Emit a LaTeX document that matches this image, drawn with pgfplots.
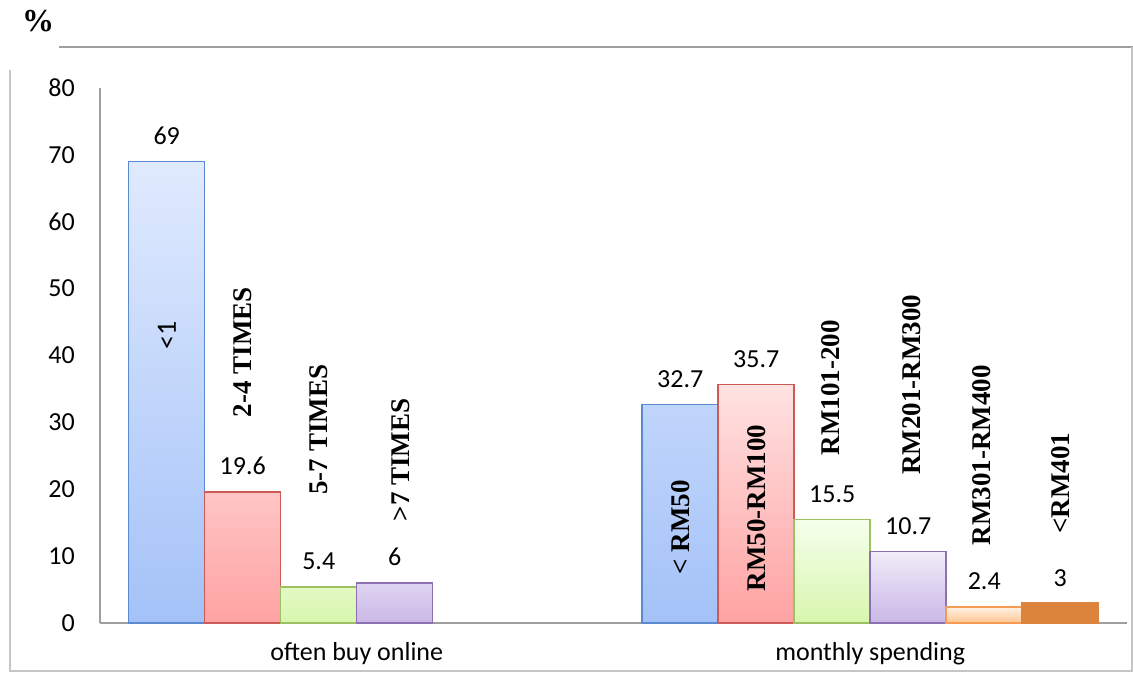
\documentclass[border=0pt]{standalone}
\usepackage{pgfplots}
\pgfplotsset{compat=1.18}
\usepackage{fontspec}
\setmainfont{Carlito}
\newfontfamily\tnr{Liberation Serif}
\definecolor{bluetop}{HTML}{E0EAFE}
\definecolor{bluebot}{HTML}{A4C2F8}
\definecolor{blueline}{HTML}{5A8AD0}
\definecolor{redtop}{HTML}{FFE2E2}
\definecolor{redbot}{HTML}{FFA2A2}
\definecolor{redline}{HTML}{CC5B58}
\definecolor{greentop}{HTML}{F5FFEC}
\definecolor{greenbot}{HTML}{D8F6AE}
\definecolor{greenline}{HTML}{9CC163}
\definecolor{purptop}{HTML}{F0ECF8}
\definecolor{purpbot}{HTML}{CAB7E7}
\definecolor{purpline}{HTML}{8D70B0}
\definecolor{peachtop}{HTML}{FFF1E4}
\definecolor{peachbot}{HTML}{FFC48E}
\definecolor{peachline}{HTML}{F49A52}
\definecolor{orangebar}{HTML}{DC843C}
\begin{document}
\begin{tikzpicture}
\path[use as bounding box] (0,0) rectangle (1133pt,673pt);
\draw[gray!75, line width=1.5pt] (59pt,626pt) -- (1133pt,626pt);
\draw[gray!45, line width=1.5pt] (10pt,603pt) -- (10pt,2pt) -- (1132pt,2pt) -- (1132pt,626pt);
\node[font=\tnr\bfseries\fontsize{32}{34}\selectfont] at (38pt,652pt) {\%};
\begin{axis}[
  at={(100pt,50pt)}, anchor=south west,
  scale only axis, width=1027pt, height=535pt,
  xmin=-0.5, xmax=1.5, ymin=0, ymax=80,
  ybar=0pt, bar width=76pt,
  axis x line*=bottom, axis y line*=left,
  axis line style={gray!75, line width=1.3pt},
  major tick length=0pt,
  xtick={0,1}, xticklabels={often buy online, monthly spending},
  ytick={0,10,...,80},
  /pgf/number format/assume math mode=true,
  tick label style={font=\fontsize{26}{30}\selectfont, inner sep=0pt},
  yticklabel style={anchor=east, xshift=-25pt},
  xticklabel style={anchor=base, yshift=-37pt},
  nodes near coords,
  every node near coord/.append style={font=\fontsize{26}{30}\selectfont, inner sep=0pt, anchor=south, yshift=16pt, color=black},
  clip=false,
]
\addplot[draw=blueline, line width=1.5pt, top color=bluetop, bottom color=bluebot] coordinates {(0,69) (1,32.7)};
\addplot[draw=redline, line width=1.5pt, top color=redtop, bottom color=redbot] coordinates {(0,19.6) (1,35.7)};
\addplot[draw=greenline, line width=1.5pt, top color=greentop, bottom color=greenbot] coordinates {(0,5.4) (1,15.5)};
\addplot[draw=purpline, line width=1.5pt, top color=purptop, bottom color=purpbot] coordinates {(0,6) (1,10.7)};
\addplot[draw=peachline, line width=1.5pt, top color=peachtop, bottom color=peachbot] coordinates {(1,2.4)};
\addplot[draw=orangebar, line width=1.5pt, fill=orangebar] coordinates {(1,3)};
\node[rotate=90, font=\fontsize{28}{30}\selectfont] at (axis cs:-0.370,43) {<1};
\node[rotate=90, font=\tnr\bfseries\fontsize{27}{30}\selectfont] at (axis cs:-0.222,40.5) {2-4 TIMES};
\node[rotate=90, font=\tnr\bfseries\fontsize{27}{30}\selectfont] at (axis cs:-0.074,28.9) {5-7 TIMES};
\node[rotate=90, font=\tnr\bfseries\fontsize{27}{30}\selectfont] at (axis cs:0.086,24.4) {>7 TIMES};
\node[rotate=90, font=\tnr\bfseries\fontsize{27}{30}\selectfont] at (axis cs:0.630,14.3) {< RM50};
\node[rotate=90, font=\tnr\bfseries\fontsize{27}{30}\selectfont] at (axis cs:0.778,17.2) {RM50-RM100};
\node[rotate=90, font=\tnr\bfseries\fontsize{27}{30}\selectfont] at (axis cs:0.922,35.2) {RM101-200};
\node[rotate=90, font=\tnr\bfseries\fontsize{27}{30}\selectfont] at (axis cs:1.080,35.6) {RM201-RM300};
\node[rotate=90, font=\tnr\bfseries\fontsize{27}{30}\selectfont] at (axis cs:1.216,25.1) {RM301-RM400};
\node[rotate=90, font=\tnr\bfseries\fontsize{27}{30}\selectfont] at (axis cs:1.370,20.9) {<RM401};
\end{axis}
\end{tikzpicture}
\end{document}
